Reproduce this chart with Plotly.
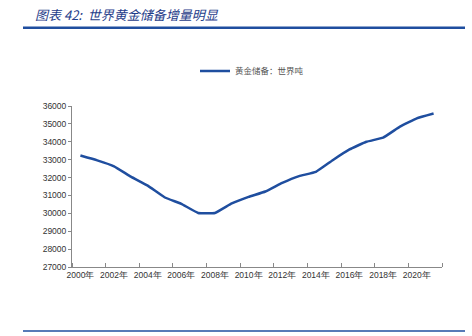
import plotly.graph_objects as go

years = list(range(2000, 2022))
gold_reserves = [33230, 32960, 32630, 32050, 31550, 30900, 30530, 30020, 30020, 30550,
                 30920, 31220, 31700, 32080, 32320, 32970, 33570, 34000, 34230, 34850,
                 35310, 35580]
tick_years = list(range(2000, 2021, 2))
tick_labels = [f"{y}年" for y in tick_years]
boundary_ticks = [y + 1.5 for y in range(1998, 2021, 2)]

W, H = 472, 336
L, R, T, B = 72, 30, 106, 69
pw, ph = W - L - R, H - T - B

def px(x):
    return (x - L) / pw

def py(y):
    return (H - B - y) / ph

fig = go.Figure()
fig.add_trace(go.Scatter(
    x=years, y=gold_reserves, mode="lines", name="黄金储备：世界吨",
    line=dict(color="#1F4E9F", width=2.5, shape="spline", smoothing=0.3),
))

axis_font = dict(family="Liberation Sans, Arial", size=8.5, color="#333333")
fig.update_layout(
    width=W, height=H,
    margin=dict(l=L, r=R, t=T, b=B),
    paper_bgcolor="white", plot_bgcolor="white",
    showlegend=True,
    legend=dict(orientation="h", x=px(195), y=py(71), xanchor="left", yanchor="middle",
                font=dict(family="Noto Sans CJK SC", size=8.5, color="#555555"),
                itemwidth=30, bgcolor="rgba(0,0,0,0)"),
    xaxis=dict(range=[1999.5, 2021.5], tickmode="array", tickvals=tick_years,
               ticktext=tick_labels, ticks="", showgrid=False, zeroline=False,
               showline=True, linecolor="#888888", linewidth=1,
               tickfont=axis_font,
               minor=dict(tickmode="array", tickvals=boundary_ticks, ticks="inside",
                          ticklen=4, tickcolor="#888888", showgrid=False)),
    yaxis=dict(range=[27000, 36000], dtick=1000, tickmode="linear", tick0=27000,
               tickformat="d",
               ticks="outside", ticklen=3, tickcolor="#888888", showgrid=False,
               zeroline=False, showline=True, linecolor="#888888", linewidth=1,
               tickfont=axis_font),
    shapes=[
        dict(type="line", xref="paper", yref="paper", x0=px(23), x1=px(465),
             y0=py(27.7), y1=py(27.7), line=dict(color="#1F4E9F", width=2.5)),
        dict(type="line", xref="paper", yref="paper", x0=px(23), x1=px(465),
             y0=py(331), y1=py(331), line=dict(color="#1F4E9F", width=1.5)),
    ],
    annotations=[
        dict(text="<i>图表 42:  世界黄金储备增量明显</i>", xref="paper", yref="paper",
             x=px(33), y=py(14), xanchor="left", yanchor="middle", showarrow=False,
             font=dict(family="Noto Sans CJK SC", size=13, color="#1F3D8A")),
        dict(text="资料来源：Wind，国泰君安证券研究", xref="paper", yref="paper",
             x=px(35), y=py(332), xanchor="left", yanchor="top", showarrow=False,
             font=dict(family="Noto Sans CJK SC", size=10, color="#1F3D8A")),
    ],
)

fig.write_html("out.html")
